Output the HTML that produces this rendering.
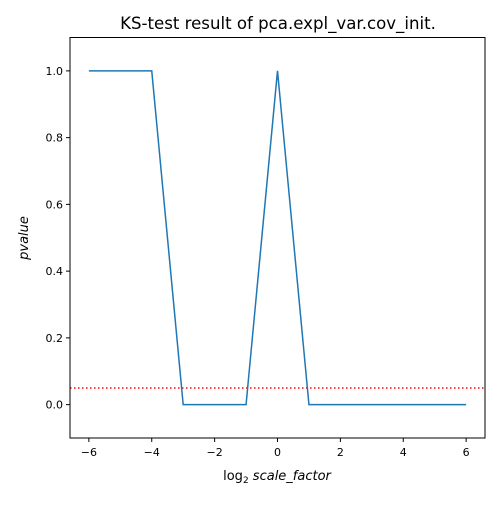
<!DOCTYPE html>
<html><head><meta charset="utf-8"><style>
body{margin:0;background:#fff;}
svg text{font-family:"DejaVu Sans","Liberation Sans",sans-serif;fill:#000;}
</style></head><body>
<svg id="chart" width="500" height="500">
<rect x="0" y="0" width="500" height="500" fill="#fff"/>
<text x="278" y="29" font-size="16.6" text-anchor="middle">KS-test result of pca.expl_var.cov_init.</text>
<g id="xticks"></g>
<g id="yticks"></g>
<line x1="70" x2="485" y1="388" y2="388" stroke="#ff0000" stroke-width="1.5" stroke-dasharray="1.5,2.5" id="thr"/>
<path id="series" fill="none" stroke="#1f77b4" stroke-width="1.5"/>
<rect x="70" y="37.5" width="415" height="400.5" fill="none" stroke="#000" stroke-width="1"/>
<text x="277" y="480" font-size="13" text-anchor="middle">log<tspan font-size="9" dy="3">2</tspan><tspan dy="-3" font-style="italic"> scale_factor</tspan></text>
<text transform="translate(28,238) rotate(-90)" font-size="13" text-anchor="middle" font-style="italic">pvalue</text>
</svg>
<script>
const xs = [-6,-5,-4,-3,-2,-1,0,1,2,3,4,5,6];
const pvals = [1,1,1,0,0,0,1,0,0,0,0,0,0];
const xTicks = [-6,-4,-2,0,2,4,6];
const yTicks = [0.0,0.2,0.4,0.6,0.8,1.0];
const threshold = 0.05;
const X0=70,X1=485,Y0=438,Y1=37.5;
const xmin=-6.6,xmax=6.6,ymin=-0.1,ymax=1.1;
const sx=v=>X0+(v-xmin)/(xmax-xmin)*(X1-X0);
const sy=v=>Y0-(v-ymin)/(ymax-ymin)*(Y0-Y1);
const NS="http://www.w3.org/2000/svg";
const xg=document.getElementById('xticks'), yg=document.getElementById('yticks');
xTicks.forEach(t=>{
  const l=document.createElementNS(NS,'line');
  l.setAttribute('x1',sx(t));l.setAttribute('x2',sx(t));l.setAttribute('y1',Y0);l.setAttribute('y2',Y0+4);l.setAttribute('stroke','#000');
  
  
  xg.appendChild(l);
  const tx=document.createElementNS(NS,'text');
  tx.setAttribute('x',sx(t));tx.setAttribute('y',Y0+18);tx.setAttribute('font-size','11');tx.setAttribute('text-anchor','middle');
  tx.textContent=(t<0?'\u2212'+(-t):String(t));
  
  
  xg.appendChild(tx);
});
yTicks.forEach(t=>{
  const l=document.createElementNS(NS,'line');
  l.setAttribute('x1',X0-4);l.setAttribute('x2',X0);l.setAttribute('y1',sy(t));l.setAttribute('y2',sy(t));l.setAttribute('stroke','#000');
  
  
  yg.appendChild(l);
  const tx=document.createElementNS(NS,'text');
  tx.setAttribute('x',X0-7);tx.setAttribute('y',sy(t)+4);tx.setAttribute('font-size','11');tx.setAttribute('text-anchor','end');
  tx.textContent=t.toFixed(1);
  
  
  yg.appendChild(tx);
});
const thr=document.getElementById('thr');
thr.setAttribute('y1',sy(threshold));thr.setAttribute('y2',sy(threshold));
document.getElementById('series').setAttribute('d',xs.map((x,i)=>(i?'L':'M')+sx(x)+','+sy(pvals[i])).join(''));
</script>
</body></html>
